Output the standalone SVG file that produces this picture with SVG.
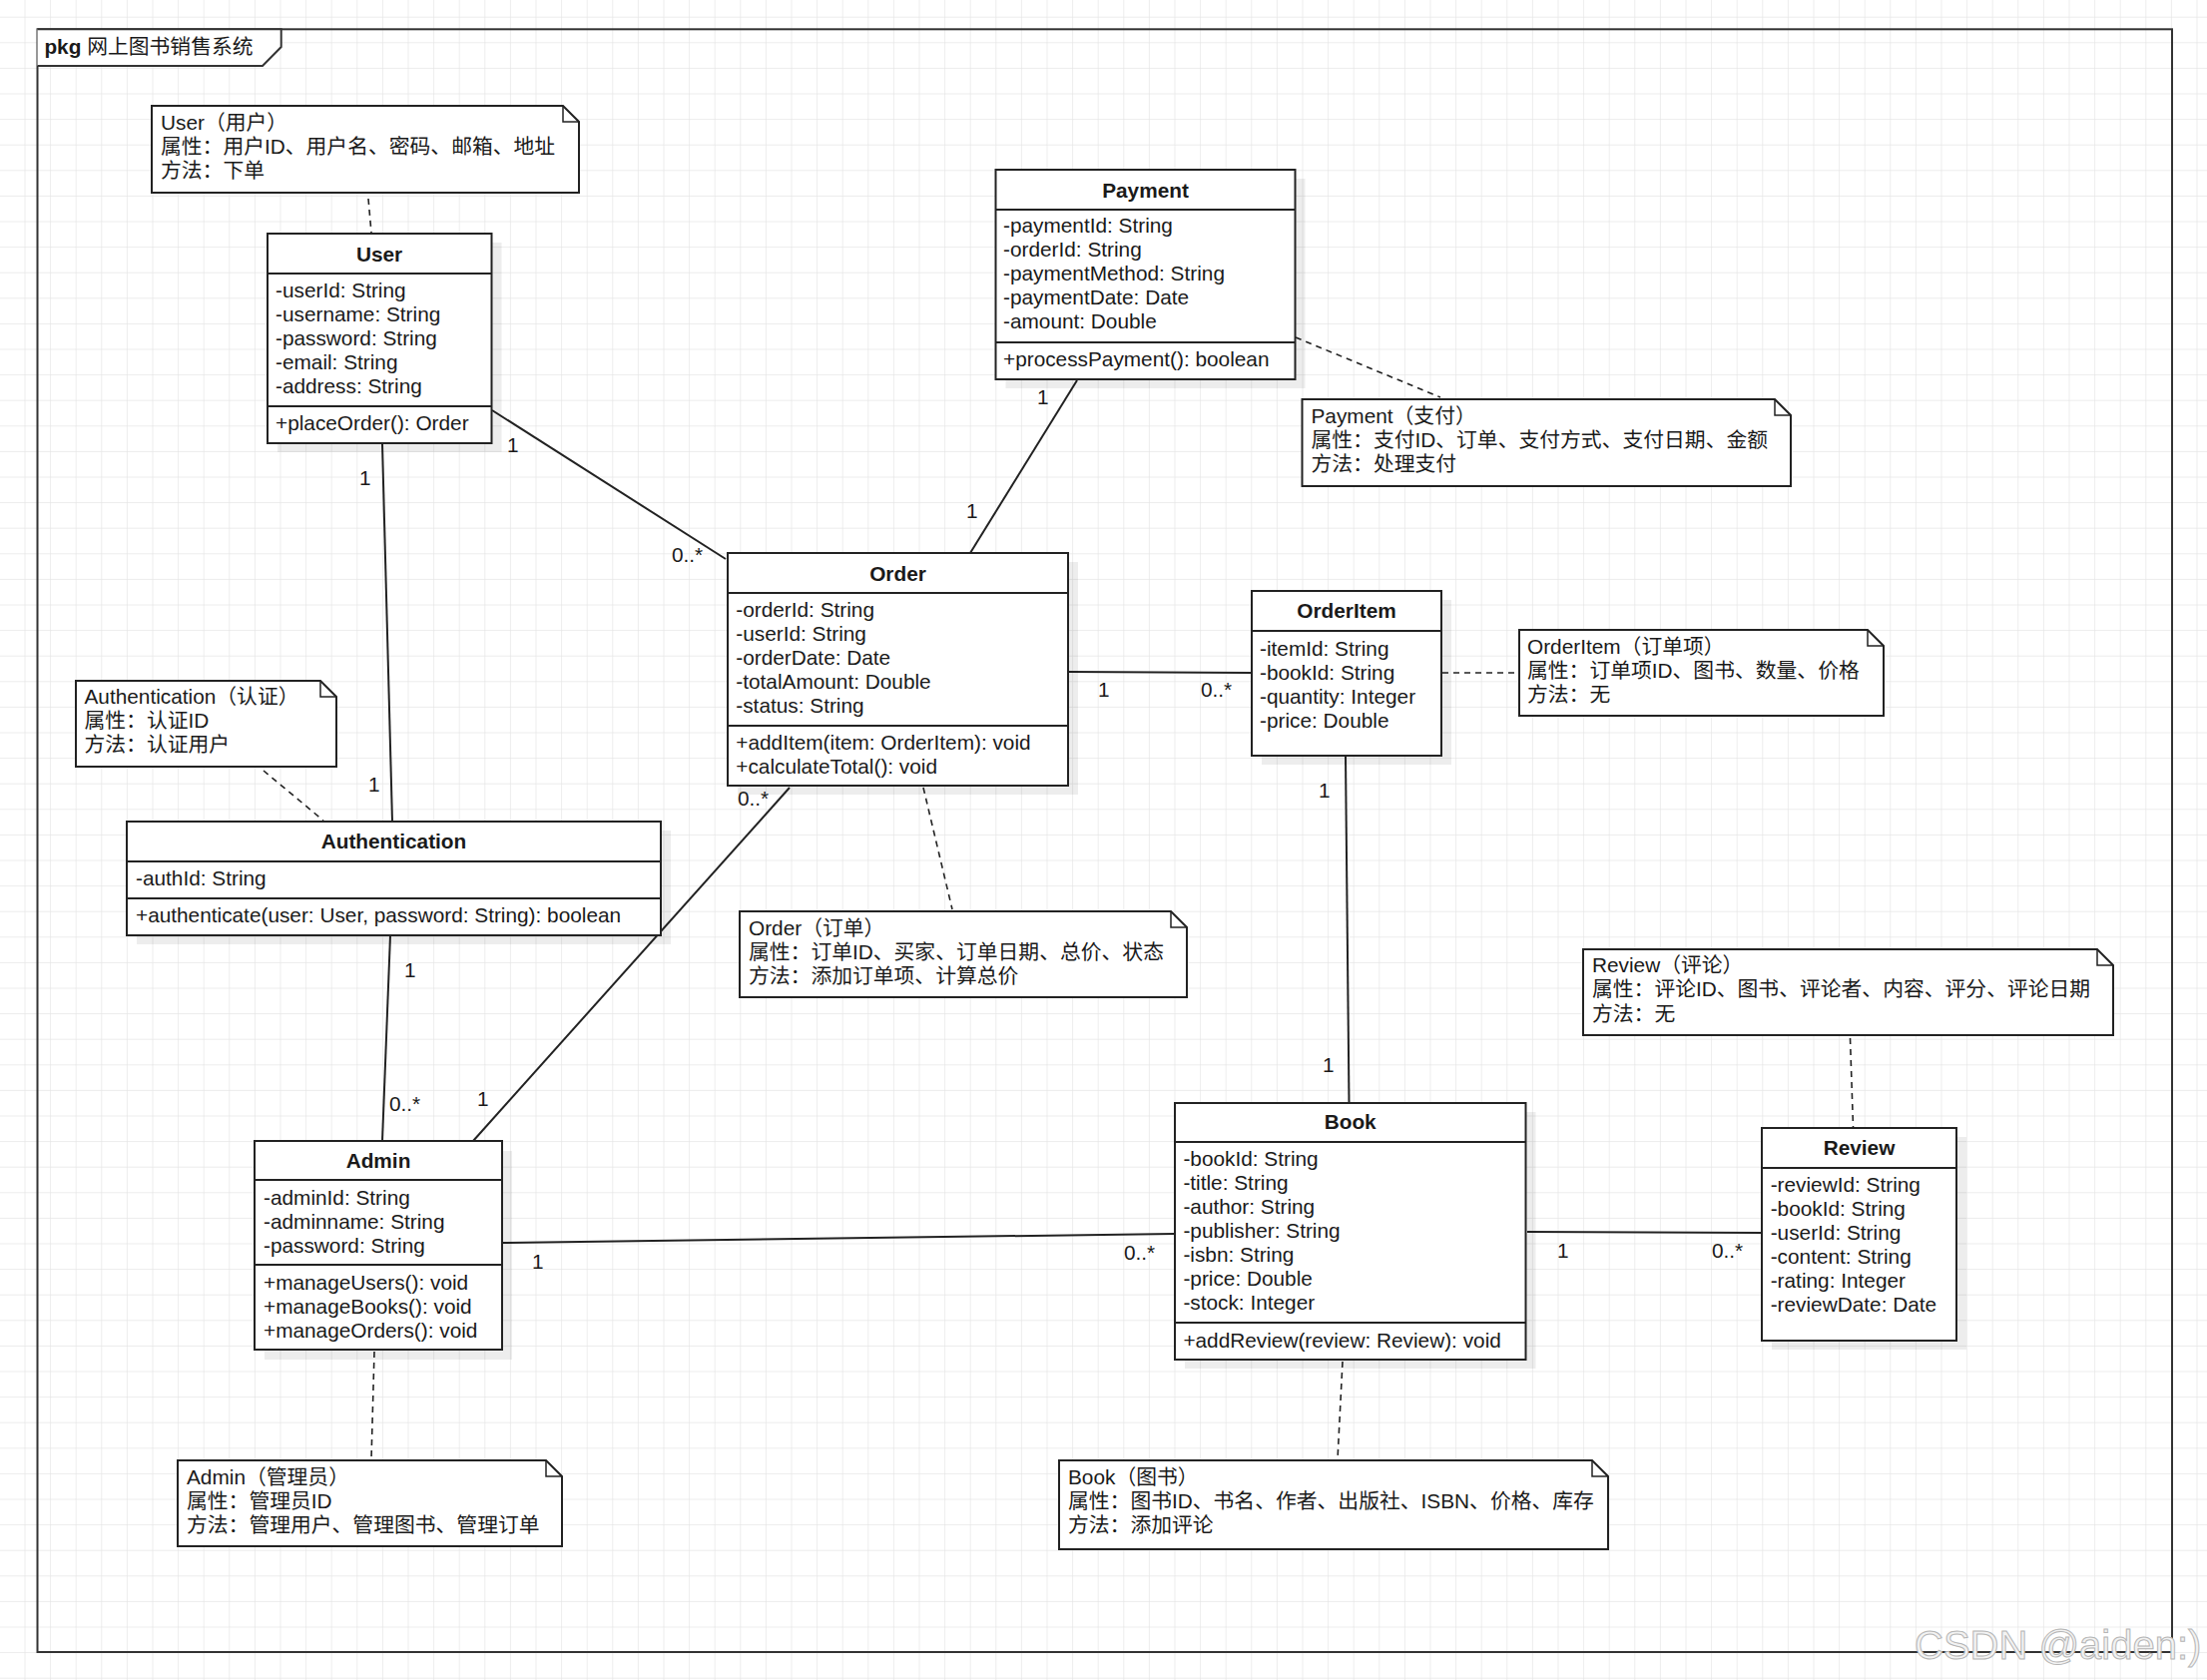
<svg xmlns="http://www.w3.org/2000/svg" width="2211" height="1683" viewBox="0 0 2211 1683">
<style>
.t{font-family:"Liberation Sans","Noto Sans CJK SC",sans-serif;font-size:20.8px;fill:#1a1a1a}
.b{font-weight:bold}
.box{fill:#fff;stroke:#222;stroke-width:2}
.sh{fill:#000;opacity:.07}
.div{stroke:#222;stroke-width:2}
.note{fill:#fff;stroke:#222;stroke-width:2}
.fold{fill:none;stroke:#222;stroke-width:1.5}
.as{stroke:#222;stroke-width:2;fill:none}
.dl{stroke:#222;stroke-width:1.6;fill:none;stroke-dasharray:6 5}
.m{font-family:"Liberation Sans",sans-serif;font-size:20.8px;fill:#1a1a1a}
</style>
<defs>
<pattern id="grid" patternUnits="userSpaceOnUse" x="24.5" y="16.7" width="25.6" height="25.6">
<path d="M0,0 H25.6 M0,0 V25.6" stroke="#e6e6e6" stroke-width="1.4" fill="none"/>
</pattern>
</defs>
<rect width="2211" height="1683" fill="#fff"/>
<rect width="2211" height="1683" fill="url(#grid)"/>

<g id="package">
<rect x="37.5" y="29.3" width="2138.5" height="1625.7" fill="none" stroke="#333" stroke-width="2"/>
<path d="M37.5,29.3 H281.7 V47 L263,66 H37.5" fill="#fff" stroke="#333" stroke-width="2"/>
<text class="t" x="44.4" y="54"><tspan class="b">pkg</tspan> 网上图书销售系统</text>
</g>

<g id="connectors">
<line class="as" x1="493" y1="411" x2="727" y2="560"/>
<line class="as" x1="383" y1="445" x2="393" y2="823"/>
<line class="as" x1="391" y1="937" x2="383" y2="1143"/>
<line class="as" x1="791" y1="789" x2="474" y2="1143"/>
<line class="as" x1="1079" y1="381" x2="972" y2="554"/>
<line class="as" x1="1071" y1="673" x2="1254" y2="674"/>
<line class="as" x1="1348" y1="757" x2="1351.5" y2="1105"/>
<line class="as" x1="503" y1="1245" x2="1176" y2="1236"/>
<line class="as" x1="1530" y1="1234" x2="1764" y2="1235"/>
<line class="dl" x1="369" y1="199" x2="372" y2="233"/>
<line class="dl" x1="1298" y1="338" x2="1443" y2="398"/>
<line class="dl" x1="925" y1="789" x2="954" y2="911"/>
<line class="dl" x1="1445" y1="674" x2="1520" y2="674"/>
<line class="dl" x1="264" y1="772" x2="324" y2="822"/>
<line class="dl" x1="375" y1="1354" x2="372" y2="1462"/>
<line class="dl" x1="1345" y1="1364" x2="1340" y2="1462"/>
<line class="dl" x1="1853.5" y1="1040" x2="1856.5" y2="1129"/>
<text class="m" x="508" y="453">1</text>
<text class="m" x="673" y="563">0..*</text>
<text class="m" x="360" y="486">1</text>
<text class="m" x="369" y="793">1</text>
<text class="m" x="405" y="979">1</text>
<text class="m" x="390" y="1113">0..*</text>
<text class="m" x="478" y="1108">1</text>
<text class="m" x="739" y="807">0..*</text>
<text class="m" x="1039" y="405">1</text>
<text class="m" x="968" y="519">1</text>
<text class="m" x="1100" y="698">1</text>
<text class="m" x="1203" y="698">0..*</text>
<text class="m" x="1321" y="799">1</text>
<text class="m" x="1325" y="1074">1</text>
<text class="m" x="533" y="1271">1</text>
<text class="m" x="1126" y="1262">0..*</text>
<text class="m" x="1560" y="1260">1</text>
<text class="m" x="1715" y="1260">0..*</text>
</g>

<g id="user">
<rect class="sh" x="278" y="243" width="224.5" height="210"/>
<rect class="box" x="268" y="234" width="224.5" height="210"/>
<line class="div" x1="268" y1="274" x2="492.5" y2="274"/>
<line class="div" x1="268" y1="407" x2="492.5" y2="407"/>
<text class="t b" x="380" y="262" text-anchor="middle">User</text>
<text class="t" x="276" y="298">-userId: String</text>
<text class="t" x="276" y="322">-username: String</text>
<text class="t" x="276" y="346">-password: String</text>
<text class="t" x="276" y="370">-email: String</text>
<text class="t" x="276" y="394">-address: String</text>
<text class="t" x="276" y="431">+placeOrder(): Order</text>
</g>

<g id="payment">
<rect class="sh" x="1007.5" y="179" width="300" height="210"/>
<rect class="box" x="997.5" y="170" width="300" height="210"/>
<line class="div" x1="997.5" y1="210" x2="1297.5" y2="210"/>
<line class="div" x1="997.5" y1="343" x2="1297.5" y2="343"/>
<text class="t b" x="1147.5" y="198" text-anchor="middle">Payment</text>
<text class="t" x="1005" y="233">-paymentId: String</text>
<text class="t" x="1005" y="257">-orderId: String</text>
<text class="t" x="1005" y="281">-paymentMethod: String</text>
<text class="t" x="1005" y="305">-paymentDate: Date</text>
<text class="t" x="1005" y="329">-amount: Double</text>
<text class="t" x="1005" y="367">+processPayment(): boolean</text>
</g>

<g id="order">
<rect class="sh" x="739" y="563" width="341" height="233"/>
<rect class="box" x="729" y="554" width="341" height="233"/>
<line class="div" x1="729" y1="594" x2="1070" y2="594"/>
<line class="div" x1="729" y1="727" x2="1070" y2="727"/>
<text class="t b" x="899.5" y="582" text-anchor="middle">Order</text>
<text class="t" x="737.3" y="618">-orderId: String</text>
<text class="t" x="737.3" y="642">-userId: String</text>
<text class="t" x="737.3" y="666">-orderDate: Date</text>
<text class="t" x="737.3" y="690">-totalAmount: Double</text>
<text class="t" x="737.3" y="714">-status: String</text>
<text class="t" x="737.3" y="751">+addItem(item: OrderItem): void</text>
<text class="t" x="737.3" y="775">+calculateTotal(): void</text>
</g>

<g id="orderitem">
<rect class="sh" x="1264" y="601" width="190" height="165"/>
<rect class="box" x="1254" y="592" width="190" height="165"/>
<line class="div" x1="1254" y1="632" x2="1444" y2="632"/>
<text class="t b" x="1349" y="619" text-anchor="middle">OrderItem</text>
<text class="t" x="1262" y="657">-itemId: String</text>
<text class="t" x="1262" y="681">-bookId: String</text>
<text class="t" x="1262" y="705">-quantity: Integer</text>
<text class="t" x="1262" y="729">-price: Double</text>
</g>

<g id="authentication">
<rect class="sh" x="137" y="832" width="535" height="114"/>
<rect class="box" x="127" y="823" width="535" height="114"/>
<line class="div" x1="127" y1="863" x2="662" y2="863"/>
<line class="div" x1="127" y1="900" x2="662" y2="900"/>
<text class="t b" x="394.5" y="850" text-anchor="middle">Authentication</text>
<text class="t" x="136" y="887">-authId: String</text>
<text class="t" x="136" y="924">+authenticate(user: User, password: String): boolean</text>
</g>

<g id="admin">
<rect class="sh" x="265" y="1153" width="248" height="209"/>
<rect class="box" x="255" y="1143" width="248" height="209"/>
<line class="div" x1="255" y1="1182" x2="503" y2="1182"/>
<line class="div" x1="255" y1="1267" x2="503" y2="1267"/>
<text class="t b" x="379" y="1170" text-anchor="middle">Admin</text>
<text class="t" x="264" y="1207">-adminId: String</text>
<text class="t" x="264" y="1231">-adminname: String</text>
<text class="t" x="264" y="1255">-password: String</text>
<text class="t" x="264" y="1292">+manageUsers(): void</text>
<text class="t" x="264" y="1316">+manageBooks(): void</text>
<text class="t" x="264" y="1340">+manageOrders(): void</text>
</g>

<g id="book">
<rect class="sh" x="1187" y="1114" width="351.5" height="257"/>
<rect class="box" x="1177" y="1105" width="351.5" height="257"/>
<line class="div" x1="1177" y1="1144" x2="1528.5" y2="1144"/>
<line class="div" x1="1177" y1="1325" x2="1528.5" y2="1325"/>
<text class="t b" x="1352.7" y="1131" text-anchor="middle">Book</text>
<text class="t" x="1185.4" y="1168">-bookId: String</text>
<text class="t" x="1185.4" y="1192">-title: String</text>
<text class="t" x="1185.4" y="1216">-author: String</text>
<text class="t" x="1185.4" y="1240">-publisher: String</text>
<text class="t" x="1185.4" y="1264">-isbn: String</text>
<text class="t" x="1185.4" y="1288">-price: Double</text>
<text class="t" x="1185.4" y="1312">-stock: Integer</text>
<text class="t" x="1185.4" y="1350">+addReview(review: Review): void</text>
</g>

<g id="review">
<rect class="sh" x="1775" y="1139" width="195" height="213"/>
<rect class="box" x="1765" y="1130" width="195" height="213"/>
<line class="div" x1="1765" y1="1170" x2="1960" y2="1170"/>
<text class="t b" x="1862.5" y="1157" text-anchor="middle">Review</text>
<text class="t" x="1773.7" y="1194">-reviewId: String</text>
<text class="t" x="1773.7" y="1218">-bookId: String</text>
<text class="t" x="1773.7" y="1242">-userId: String</text>
<text class="t" x="1773.7" y="1266">-content: String</text>
<text class="t" x="1773.7" y="1290">-rating: Integer</text>
<text class="t" x="1773.7" y="1314">-reviewDate: Date</text>
</g>

<g id="note-user">
<path class="note" d="M152,106 H564 L580,122 V193 H152 Z"/>
<path class="fold" d="M564,106 V122 H580"/>
<text class="t" x="161" y="130">User（用户）</text>
<text class="t" x="161" y="154">属性：用户ID、用户名、密码、邮箱、地址</text>
<text class="t" x="161" y="178">方法：下单</text>
</g>

<g id="note-payment">
<path class="note" d="M1304.5,400 H1778 L1794,416 V487 H1304.5 Z"/>
<path class="fold" d="M1778,400 V416 H1794"/>
<text class="t" x="1313.5" y="424">Payment（支付）</text>
<text class="t" x="1313.5" y="448">属性：支付ID、订单、支付方式、支付日期、金额</text>
<text class="t" x="1313.5" y="472">方法：处理支付</text>
</g>

<g id="note-order">
<path class="note" d="M741,913 H1173 L1189,929 V999 H741 Z"/>
<path class="fold" d="M1173,913 V929 H1189"/>
<text class="t" x="750" y="937">Order（订单）</text>
<text class="t" x="750" y="961">属性：订单ID、买家、订单日期、总价、状态</text>
<text class="t" x="750" y="985">方法：添加订单项、计算总价</text>
</g>

<g id="note-orderitem">
<path class="note" d="M1522,631 H1871 L1887,647 V717 H1522 Z"/>
<path class="fold" d="M1871,631 V647 H1887"/>
<text class="t" x="1530" y="655">OrderItem（订单项）</text>
<text class="t" x="1530" y="679">属性：订单项ID、图书、数量、价格</text>
<text class="t" x="1530" y="703">方法：无</text>
</g>

<g id="note-authentication">
<path class="note" d="M76,682 H321 L337,698 V768 H76 Z"/>
<path class="fold" d="M321,682 V698 H337"/>
<text class="t" x="84.5" y="705">Authentication（认证）</text>
<text class="t" x="84.5" y="729">属性：认证ID</text>
<text class="t" x="84.5" y="753">方法：认证用户</text>
</g>

<g id="note-admin">
<path class="note" d="M178,1463 H547 L563,1479 V1549 H178 Z"/>
<path class="fold" d="M547,1463 V1479 H563"/>
<text class="t" x="187" y="1487">Admin（管理员）</text>
<text class="t" x="187" y="1511">属性：管理员ID</text>
<text class="t" x="187" y="1535">方法：管理用户、管理图书、管理订单</text>
</g>

<g id="note-book">
<path class="note" d="M1061,1463 H1595 L1611,1479 V1552 H1061 Z"/>
<path class="fold" d="M1595,1463 V1479 H1611"/>
<text class="t" x="1070" y="1487">Book（图书）</text>
<text class="t" x="1070" y="1511">属性：图书ID、书名、作者、出版社、ISBN、价格、库存</text>
<text class="t" x="1070" y="1535">方法：添加评论</text>
</g>

<g id="note-review">
<path class="note" d="M1586,951 H2101 L2117,967 V1037 H1586 Z"/>
<path class="fold" d="M2101,951 V967 H2117"/>
<text class="t" x="1595" y="974">Review（评论）</text>
<text class="t" x="1595" y="998">属性：评论ID、图书、评论者、内容、评分、评论日期</text>
<text class="t" x="1595" y="1023">方法：无</text>
</g>

<text x="1918" y="1662" font-family="Liberation Sans, sans-serif" font-size="40" fill="#f2f2f2" stroke="#b5b5b5" stroke-width="1">CSDN @aiden:)</text>
</svg>
